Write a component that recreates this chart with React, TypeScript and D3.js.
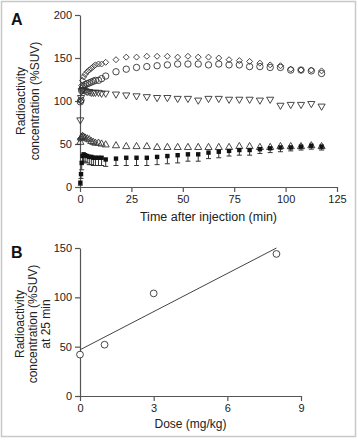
import React, { useEffect, useRef } from "react";
import * as d3 from "d3";

// panel A: time-activity curves (%SUV)
const times = [0.17, 0.5, 0.83, 1.25, 1.75, 2.5, 3.5, 4.5, 5.5, 6.5, 7.5, 9, 10.5,
  12.5, 17.5, 22.5, 27.5, 32.5, 37.5, 42.5, 47.5, 52.5, 57.5, 62.5, 67.5, 72.5,
  77.5, 82.5, 87.5, 92.5, 97.5, 102.5, 107.5, 112.5, 117.5];

const diamondVals = [56, 100, 118, 124, 128, 131, 134, 136, 138, 140, 142, 143, 143,
  145, 148, 151, 151, 152, 152, 152, 151, 152, 151, 151, 150, 148, 147, 146, 144, 142, 141, 137, 136, 136, 135];
const circleVals = [99, 101, 112, 115, 117, 119, 120, 121, 122, 123, 124, 124, 126,
  129, 134, 137, 139, 140, 141, 142, 143, 143, 143, 142, 143, 142, 142, 140, 140, 139, 139, 136, 136, 135, 132];
const downTriVals = [78, 104, 112, 113, 113, 112, 111, 111, 110, 110, 110, 110, 109,
  109, 108, 107, 106, 105, 104, 104, 103, 103, 101, 103, 103, 102, 102, 102, 101, 102, 95, 96, 96, 97, 94];
const upTriVals = [52, 57, 58, 59, 58, 57, 56, 55, 53, 52, 51, 51, 50,
  49, 48, 47, 47, 47, 46, 46, 46, 46, 46, 46, 46, 46, 47, 47, 46, 46, 47, 47, 47, 48, 47];
const squareVals = [5, 15, 28, 36, 38, 37, 36, 35, 35, 34, 34, 34, 34,
  32, 33, 34, 34, 34, 35, 36, 37, 38, 38, 40, 41, 42, 43, 43, 44, 45, 46, 46, 47, 48, 47];
const squareErr = [3, 5, 8, 8, 8, 8, 8, 9, 9, 9, 9, 9, 9,
  8, 8, 9, 9, 9, 9, 9, 9, 8, 8, 7, 7, 6, 6, 6, 5, 5, 5, 4, 4, 4, 4];

// panel B: dose response at 25 min
const doses = [0, 1, 3, 8];
const conc25 = [42, 52, 104, 144];

const ticksA_x = [0, 25, 50, 75, 100, 125];
const ticksA_y = [0, 50, 100, 150, 200];
const ticksB_x = [0, 3, 6, 9];
const ticksB_y = [0, 50, 100, 150];

const FONT = "'Liberation Sans', Arial, Helvetica, sans-serif";
const INK = "#333";

export default function App() {
  const svgRef = useRef<SVGSVGElement>(null);

  useEffect(() => {
    const svg = d3.select(svgRef.current);
    svg.selectAll("*").remove();

    svg.append("rect")
      .attr("x", 1.5).attr("y", 1.5)
      .attr("width", 354).attr("height", 435)
      .attr("fill", "white")
      .attr("stroke", "#c8c8c8")
      .attr("stroke-width", 1.5);

    const styleAxis = (g: any) => {
      g.selectAll("path").attr("stroke", "#555").attr("stroke-width", 1.2);
      g.selectAll("line").attr("stroke", "#555").attr("stroke-width", 1.2);
      g.selectAll("text").attr("fill", "#222").style("font-family", FONT).style("font-size", "11px");
    };

    // ---------- panel A ----------
    const xA = d3.scaleLinear().domain([0, 125]).range([80, 337]);
    const yA = d3.scaleLinear().domain([0, 200]).range([187, 15]);

    svg.append("g")
      .attr("transform", `translate(0,${yA(0)})`)
      .call(d3.axisBottom(xA).tickValues(ticksA_x).tickSize(5).tickSizeOuter(0).tickPadding(3))
      .call(styleAxis);
    svg.append("g")
      .attr("transform", `translate(${xA(0)},0)`)
      .call(d3.axisLeft(yA).tickValues(ticksA_y).tickSize(5).tickSizeOuter(0).tickPadding(3))
      .call(styleAxis);

    const gA = svg.append("g");
    const pts = (vals: number[]) => times.map((t, i) => ({ t, v: vals[i] }));

    // error bars (downward only)
    const eb = gA.append("g").attr("stroke", INK).attr("stroke-width", 1);
    pts(squareVals).forEach((d, i) => {
      const x = xA(d.t), y0 = yA(d.v), y1 = yA(d.v - squareErr[i]);
      eb.append("line").attr("x1", x).attr("x2", x).attr("y1", y0).attr("y2", y1);
      eb.append("line").attr("x1", x - 2.5).attr("x2", x + 2.5).attr("y1", y1).attr("y2", y1);
    });

    const openStyle = (sel: any) => sel.attr("fill", "none").attr("stroke", INK).attr("stroke-width", 0.9);

    gA.selectAll(".dia").data(pts(diamondVals)).enter().append("path")
      .attr("d", "M0,-3L3,0L0,3L-3,0Z")
      .attr("transform", (d: any) => `translate(${xA(d.t)},${yA(d.v)})`)
      .call(openStyle);
    gA.selectAll(".cir").data(pts(circleVals)).enter().append("circle")
      .attr("cx", (d: any) => xA(d.t)).attr("cy", (d: any) => yA(d.v)).attr("r", 3.2)
      .call(openStyle);
    const tri = d3.symbol().type(d3.symbolTriangle).size(22)();
    gA.selectAll(".dtri").data(pts(downTriVals)).enter().append("path")
      .attr("d", tri)
      .attr("transform", (d: any) => `translate(${xA(d.t)},${yA(d.v)}) rotate(180)`)
      .call(openStyle);
    gA.selectAll(".utri").data(pts(upTriVals)).enter().append("path")
      .attr("d", tri)
      .attr("transform", (d: any) => `translate(${xA(d.t)},${yA(d.v)})`)
      .call(openStyle);
    gA.selectAll(".sq").data(pts(squareVals)).enter().append("rect")
      .attr("x", (d: any) => xA(d.t) - 2.2).attr("y", (d: any) => yA(d.v) - 2.2)
      .attr("width", 4.4).attr("height", 4.4)
      .attr("fill", "#111");

    svg.append("text").attr("x", 11).attr("y", 25).text("A")
      .style("font-family", FONT).style("font-size", "16px").style("font-weight", "bold").attr("fill", "#111");

    const yLabel = (lines: string[], x0: number, yc: number, step: number) => {
      lines.forEach((s, i) => {
        svg.append("text")
          .attr("transform", `translate(${x0 + i * step},${yc}) rotate(-90)`)
          .attr("text-anchor", "middle")
          .attr("fill", "#222")
          .style("font-family", FONT).style("font-size", "12px")
          .text(s);
      });
    };
    yLabel(["Radioactivity", "concentration (%SUV)"], 25, 101, 14);

    svg.append("text").attr("x", (80 + 337) / 2).attr("y", 221)
      .attr("text-anchor", "middle").attr("fill", "#222")
      .style("font-family", FONT).style("font-size", "12.5px")
      .text("Time after injection (min)");

    // ---------- panel B ----------
    const xB = d3.scaleLinear().domain([0, 9]).range([80, 301]);
    const yB = d3.scaleLinear().domain([0, 150]).range([396, 248]);

    svg.append("g")
      .attr("transform", `translate(0,${yB(0)})`)
      .call(d3.axisBottom(xB).tickValues(ticksB_x).tickSize(5).tickSizeOuter(0).tickPadding(3))
      .call(styleAxis);
    svg.append("g")
      .attr("transform", `translate(${xB(0)},0)`)
      .call(d3.axisLeft(yB).tickValues(ticksB_y).tickSize(5).tickSizeOuter(0).tickPadding(3))
      .call(styleAxis);

    // least squares fit line
    const mx = d3.mean(doses)!, my = d3.mean(conc25)!;
    const sxy = d3.sum(doses, (d, i) => (d - mx) * (conc25[i] - my));
    const sxx = d3.sum(doses, (d) => (d - mx) ** 2);
    const slope = sxy / sxx, icpt = my - slope * mx;
    const xs = d3.extent(doses) as [number, number];
    svg.append("line")
      .attr("x1", xB(xs[0])).attr("y1", yB(icpt + slope * xs[0]))
      .attr("x2", xB(xs[1])).attr("y2", yB(icpt + slope * xs[1]))
      .attr("stroke", "#444").attr("stroke-width", 1);

    svg.selectAll(".bpt").data(doses).enter().append("circle")
      .attr("cx", (d: number) => xB(d)).attr("cy", (d: number, i: number) => yB(conc25[i]))
      .attr("r", 3.4)
      .attr("fill", "white").attr("stroke", INK).attr("stroke-width", 0.9);

    svg.append("text").attr("x", 11).attr("y", 258).text("B")
      .style("font-family", FONT).style("font-size", "16px").style("font-weight", "bold").attr("fill", "#111");

    yLabel(["Radioactivity", "concentration  (%SUV)", "at 25 min"], 24, 324, 13);

    svg.append("text").attr("x", (80 + 301) / 2).attr("y", 428)
      .attr("text-anchor", "middle").attr("fill", "#222")
      .style("font-family", FONT).style("font-size", "12px")
      .text("Dose (mg/kg)");
  }, []);

  return (
    <svg ref={svgRef} width={358} height={440}
      style={{ position: "absolute", left: 0, top: 0, background: "white" }} />
  );
}
